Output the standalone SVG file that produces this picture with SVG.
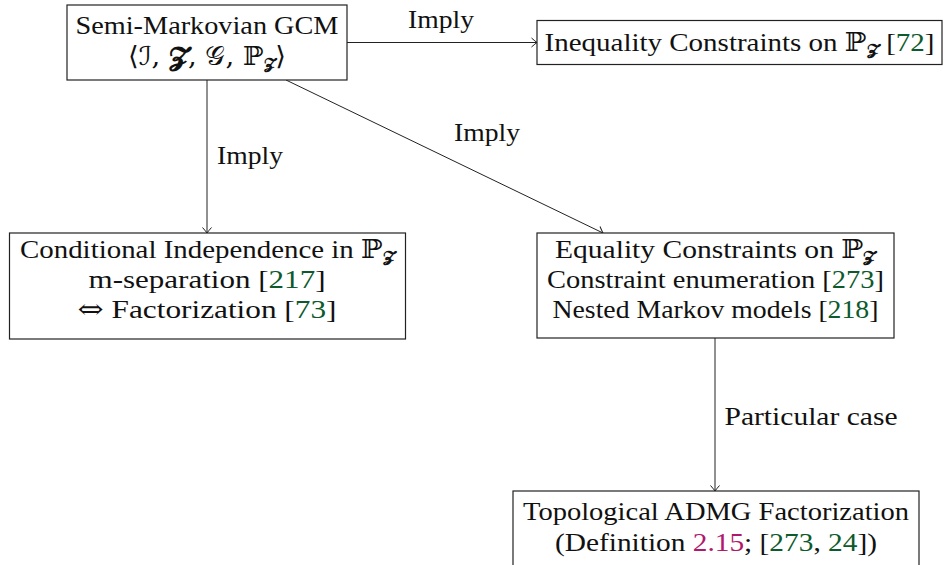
<svg xmlns="http://www.w3.org/2000/svg" width="946" height="565" viewBox="0 0 946 565" font-family="'Liberation Serif', serif">
<style>
.box{fill:#fff;stroke:#222;stroke-width:1.2}
.t{font-family:'Liberation Serif',serif;font-size:26px;fill:#111;text-anchor:middle}
.m{font-family:'DejaVu Serif','DejaVu Sans',serif}
.sub{font-size:15px}
.g{fill:#0d5a2c}
.p{fill:#b0186a}
.edge{fill:none;stroke:#222;stroke-width:1}
</style>
<defs>
<marker id="arr" markerWidth="12" markerHeight="12" refX="0" refY="0" viewBox="-7 -6 8 12" orient="auto" markerUnits="userSpaceOnUse">
<path d="M-5.5,-4.5 Q-1.5,-1 0,0 Q-1.5,1 -5.5,4.5" fill="none" stroke="#222" stroke-width="1"/>
</marker>
</defs>
<g id="connectors">
<line class="edge" x1="347" y1="42.5" x2="537" y2="42.5" marker-end="url(#arr)"/>
<line class="edge" x1="207" y1="80" x2="207" y2="233" marker-end="url(#arr)"/>
<line class="edge" x1="286" y1="80" x2="603" y2="233" marker-end="url(#arr)"/>
<line class="edge" x1="715" y1="338" x2="715" y2="491" marker-end="url(#arr)"/>
<text class="t" x="441" y="28" textLength="66" lengthAdjust="spacingAndGlyphs">Imply</text>
<text class="t" x="250" y="164" textLength="66" lengthAdjust="spacingAndGlyphs">Imply</text>
<text class="t" x="487" y="141" textLength="66" lengthAdjust="spacingAndGlyphs">Imply</text>
<text class="t" x="811" y="425" textLength="173" lengthAdjust="spacingAndGlyphs">Particular case</text>
</g>
<g id="gcm">
<rect class="box" x="67" y="5" width="280" height="75"/>
<text class="t" x="207" y="34" textLength="263" lengthAdjust="spacingAndGlyphs">Semi-Markovian GCM</text>
<text class="t" x="207" y="65" textLength="158" lengthAdjust="spacingAndGlyphs"><tspan class="m">⟨ℐ, </tspan><tspan class="m" font-weight="bold">𝓩</tspan><tspan class="m">, 𝒢, ℙ</tspan><tspan class="m sub" font-weight="bold" dy="4">𝓩</tspan><tspan class="m" dy="-4">⟩</tspan></text>
</g>
<g id="inequality">
<rect class="box" x="537" y="20.5" width="405" height="44"/>
<text class="t" x="739.5" y="51" textLength="390" lengthAdjust="spacingAndGlyphs">Inequality Constraints on <tspan class="m">ℙ</tspan><tspan class="m sub" font-weight="bold" dy="4">𝓩</tspan><tspan dy="-4"> [</tspan><tspan class="g">72</tspan>]</text>
</g>
<g id="ci">
<rect class="box" x="9.5" y="233" width="396" height="106"/>
<text class="t" x="207.5" y="258" textLength="375" lengthAdjust="spacingAndGlyphs">Conditional Independence in <tspan class="m">ℙ</tspan><tspan class="m sub" font-weight="bold" dy="4">𝓩</tspan></text>
<text class="t" x="207" y="288" textLength="237" lengthAdjust="spacingAndGlyphs">m-separation [<tspan class="g">217</tspan>]</text>
<text class="t" x="207" y="318" textLength="259" lengthAdjust="spacingAndGlyphs"><tspan class="m" font-weight="normal">⇔</tspan> Factorization [<tspan class="g">73</tspan>]</text>
</g>
<g id="equality">
<rect class="box" x="537" y="233" width="357" height="105"/>
<text class="t" x="715.5" y="258" textLength="321" lengthAdjust="spacingAndGlyphs">Equality Constraints on <tspan class="m">ℙ</tspan><tspan class="m sub" font-weight="bold" dy="4">𝓩</tspan></text>
<text class="t" x="715.5" y="288" textLength="337" lengthAdjust="spacingAndGlyphs">Constraint enumeration [<tspan class="g">273</tspan>]</text>
<text class="t" x="715.5" y="318" textLength="326" lengthAdjust="spacingAndGlyphs">Nested Markov models [<tspan class="g">218</tspan>]</text>
</g>
<g id="topological">
<rect class="box" x="513" y="491" width="406" height="90"/>
<text class="t" x="716" y="520" textLength="386" lengthAdjust="spacingAndGlyphs">Topological ADMG Factorization</text>
<text class="t" x="716" y="551" textLength="322" lengthAdjust="spacingAndGlyphs">(Definition <tspan class="p">2.15</tspan>; [<tspan class="g">273</tspan>, <tspan class="g">24</tspan>])</text>
</g>
</svg>
